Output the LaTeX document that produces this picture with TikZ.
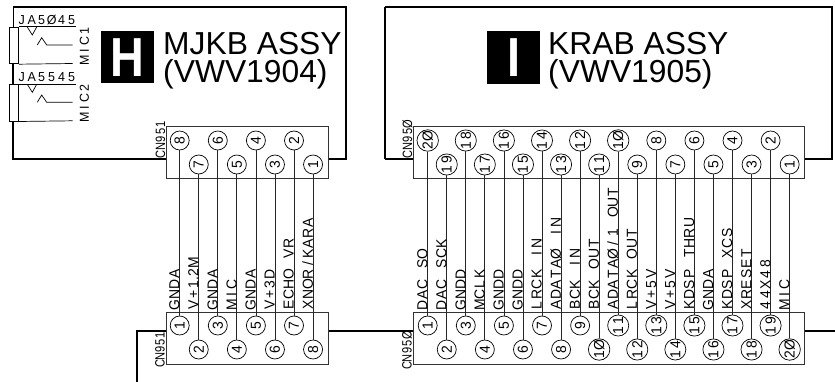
\documentclass[tikz,border=0pt]{standalone}
\usepackage{fontspec}
\setmainfont{Liberation Sans}
\newfontfamily\boldf[FakeStretch=0.85]{Liberation Sans Bold}
\newfontfamily\narf[FakeStretch=0.96]{Liberation Sans}
\newfontfamily\cnf[FakeStretch=0.82]{Liberation Sans}
\newdimen\fppitch
\def\fp#1#2{\fppitch=#1pt\relax\fpx#2\relax}
\def\fpx#1{\ifx#1\relax\else\ifx#1.\makebox[1.2pt]{#1}\else\makebox[\fppitch]{#1}\fi\expandafter\fpx\fi}
\def\fpm#1#2{\def\fptmp{\fp{#1}}\expandafter\fptmp\expandafter{#2}}
\tikzset{
  thickw/.style={line width=2.2pt,black},
  thinw/.style={line width=0.8pt,black!85},
  boxw/.style={line width=0.8pt,draw=black!80},
  pin/.style={circle,draw,line width=0.7pt,minimum size=19pt,inner sep=0pt,font=\fontsize{14.5}{14.5}\narf,fill=white},
  lab/.style={rotate=90,anchor=base west,inner sep=0pt,font=\fontsize{14.5}{14.5}\narf},
  cn/.style={rotate=90,anchor=base west,inner sep=0pt,font=\fontsize{13.5}{13.5}\cnf},
  title/.style={anchor=base west,inner sep=0pt,font=\fontsize{31.8}{32}\selectfont},
  micl/.style={rotate=90,anchor=base west,inner sep=0pt,font=\fontsize{13}{13}\narf},
  jal/.style={anchor=base west,inner sep=0pt,font=\fontsize{13}{13}\narf},
  letterbox/.style={fill=black,minimum width=53pt,minimum height=52.5pt,inner sep=0pt,text=white,font=\fontsize{55}{55}\boldf},
}
\begin{document}
\begin{tikzpicture}[x=1pt,y=-1pt]
\useasboundingbox (0,0) rectangle (835,382);
% left assembly
\draw[thickw] (13,7) -- (346,7) -- (346,159) -- (327.5,159);
\draw[thickw] (165.5,159) -- (13,159) -- (13,120.7);
\draw[thickw] (13,63.5) -- (13,84.3);
\draw[line width=1pt] (13,7) -- (13,26.7);
% jacks
\foreach \d/\ja/\mc in {0/{JA5\O 45}/MIC1,57.3/JA5545/MIC2}{
  \begin{scope}[yshift=-\d pt]
  \node[draw,line width=0.7pt,fill=white,minimum width=9.5pt,minimum height=36.8pt,inner sep=0pt,anchor=north west] (jk) at (8.6,26.7) {};
  \draw[line width=0.7pt] (jk.north east) -- (75.5,26.7);
  \draw[line width=0.7pt] (jk.south east) -- (72.7,63.5);
  \draw[line width=0.7pt] (27.3,27) -- (32.3,35) -- (36.7,27);
  \draw[line width=0.7pt] (37.3,45) -- (41.7,37.7) -- (46.7,45) -- (72.7,45);
  \node[jal] at (16.5,24.6) {\fpm{10}{\ja}};
  \node[micl] at (88.8,65.5) {\fpm{9.8}{\mc}};
  \end{scope}
}
% titles
\node[letterbox] (H) at (127.4,57.2) {H};
\node[title] at (163,54.5) {MJKB ASSY};
\node[title] at (163,83) {(VWV1904)};
\node[letterbox] (I) at (513.7,57.4) {I};
\node[title] at (548,54.5) {KRAB ASSY};
\node[title] at (548,83) {(VWV1905)};
% right assembly
\draw[thickw] (413.3,159) -- (385,159);
\draw[line width=1.6pt] (385,159) -- (385,7);
\draw[thickw] (385,7) -- (831.7,7) -- (831.7,159) -- (804,159);
% lower thick lines
\draw[thickw] (136.7,382) -- (136.7,330.7) -- (166,330.7);
\draw[thickw] (327.7,330.7) -- (413.3,330.7);
\draw[thickw] (804,330.7) -- (835,330.7);
% connector bodies
\node[boxw,draw,minimum width=162pt,minimum height=52pt,inner sep=0pt,anchor=north west] (u1) at (165.5,126) {};
\node[boxw,draw,minimum width=162pt,minimum height=52pt,inner sep=0pt,anchor=north west] (d1) at (165.5,312) {};
\node[boxw,draw,minimum width=390.7pt,minimum height=52pt,inner sep=0pt,anchor=north west] (u2) at (413.3,126) {};
\node[boxw,draw,minimum width=390.7pt,minimum height=52pt,inner sep=0pt,anchor=north west] (d2) at (413.3,312) {};
\node[cn] at (165,158.5) {\fp{7.6}{CN951}};
\node[cn] at (164.5,367.5) {\fp{7}{CN951}};
\node[cn] at (412,158.5) {\fp{7.6}{CN95\O}};
\node[cn] at (411.5,370) {\fp{7.6}{CN95\O}};
% CN951 pins + wires
\foreach \i/\up/\lo/\txt in {0/8/1/GNDA,1/7/2/V+1.2M,2/6/3/GNDA,3/5/4/MIC,4/4/5/GNDA,5/3/6/V+3D,6/2/7/{ECHO~VR},7/1/8/{XNOR/KARA}}{
  \pgfmathsetmacro{\xx}{179.7+19.05*\i}
  \pgfmathsetmacro{\yu}{mod(\i,2)==0 ? 140.5 : 164.5}
  \pgfmathsetmacro{\yd}{mod(\i,2)==0 ? 325.5 : 349.5}
  \node[pin,rotate=90] (a\i) at (\xx,\yu) {\up};
  \node[pin,rotate=90] (b\i) at (\xx,\yd) {\lo};
  \draw[thinw] (a\i.west) -- (b\i.east);
  \node[lab] at (\xx-0.3,310.5) {\fpm{10.3}{\txt}};
}
% CN950 pins + wires
\foreach \i/\up/\lo/\txt in {0/{2\O}/1/{DAC~SO},1/19/2/{DAC~SCK},2/18/3/GNDD,3/17/4/MCLK,4/16/5/GNDD,5/15/6/GNDD,6/14/7/{LRCK~IN},7/13/8/{ADATA\O~IN},8/12/9/{BCK~IN},9/11/{1\O}/{BCK~OUT},10/{1\O}/11/{ADATA\O/1~OUT},11/9/12/{LRCK~OUT},12/8/13/V+5V,13/7/14/V+5V,14/6/15/{KDSP~THRU},15/5/16/GNDA,16/4/17/{KDSP~XCS},17/3/18/XRESET,18/2/19/44X48,19/1/{2\O}/MIC}{
  \pgfmathsetmacro{\xx}{427.7+19.05*\i}
  \pgfmathsetmacro{\yu}{mod(\i,2)==0 ? 140.5 : 164.5}
  \pgfmathsetmacro{\yd}{mod(\i,2)==0 ? 325.5 : 349.5}
  \node[pin,rotate=90] (c\i) at (\xx,\yu) {\fpm{9.3}{\up}};
  \node[pin,rotate=90] (e\i) at (\xx,\yd) {\fpm{9.3}{\lo}};
  \draw[thinw] (c\i.west) -- (e\i.east);
  \node[lab] at (\xx-0.3,310.5) {\fpm{10.3}{\txt}};
}
\end{tikzpicture}
\end{document}
